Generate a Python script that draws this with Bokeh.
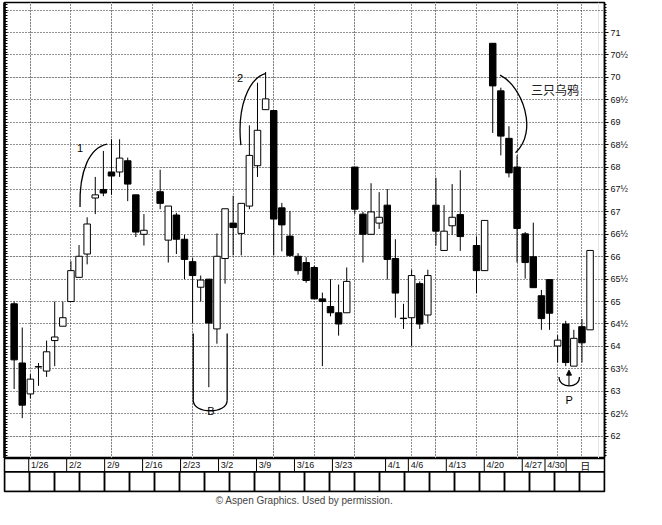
import numpy as np
from bokeh.plotting import figure
from bokeh.layouts import column
from bokeh.models import (ColumnDataSource, LinearAxis, FixedTicker, Grid,
                          Range1d, Arrow, NormalHead)
from bokeh.core.properties import value
from bokeh.embed import file_html
from bokeh.resources import INLINE

# ---------------- data (weekday index, 0 = 1/26; 15 = 2/16 and 54 = 4/10 had no trading)
day_idx = [-2, -1, 0, 1, 2, 3, 4, 5, 6, 7, 8, 9, 10, 11, 12, 13, 14,
           16, 17, 18, 19, 20, 21, 22, 23, 24, 25, 26, 27, 28, 29, 30,
           31, 32, 33, 34, 35, 36, 37, 38, 39, 40, 41, 42, 43, 44, 45,
           46, 47, 48, 49, 50, 51, 52, 53, 55, 56, 57, 58, 59, 60, 61,
           62, 63, 64, 65, 66, 67, 68, 69]
opens = [64.95, 63.63, 62.94, 63.54, 63.45, 64.13, 64.45, 65.00, 65.54, 66.06, 67.31, 67.50, 67.89, 67.89, 68.14, 67.38, 66.50,
         67.45, 66.37, 66.93, 66.39, 65.89, 65.32, 65.50, 64.39, 65.96, 66.75, 66.52, 67.13, 68.03, 69.28, 69.26,
         67.09, 66.46, 66.01, 65.87, 65.76, 65.06, 64.89, 64.75, 64.75, 68.00, 66.95, 66.50, 66.75, 67.15, 65.96,
         64.62, 64.64, 65.40, 64.70, 67.15, 66.14, 66.69, 66.94, 66.25, 65.69, 70.76, 69.70, 68.64, 68.00, 66.51,
         66.00, 65.13, 65.49, 64.01, 64.50, 63.56, 64.44, 64.37]
highs = [65.00, 64.42, 63.38, 63.63, 64.13, 65.00, 65.00, 65.90, 66.26, 66.88, 67.78, 68.36, 68.62, 68.62, 68.21, 67.38, 66.95,
         67.94, 67.13, 66.98, 66.49, 65.97, 65.58, 65.50, 66.52, 67.07, 67.36, 67.19, 68.93, 69.88, 70.12, 69.26,
         67.20, 67.02, 66.08, 65.99, 65.80, 65.20, 65.50, 65.38, 65.76, 68.00, 67.00, 67.64, 67.44, 67.51, 66.39,
         64.95, 65.71, 65.45, 65.71, 67.76, 67.15, 67.62, 67.93, 66.45, 66.81, 70.76, 69.77, 68.91, 68.26, 66.55,
         66.76, 65.26, 65.49, 64.25, 64.57, 64.37, 64.61, 66.14]
lows = [63.05, 62.40, 62.84, 63.12, 63.32, 63.56, 64.45, 65.00, 65.54, 65.83, 66.95, 67.35, 67.38, 67.78, 67.24, 66.44, 66.25,
        67.06, 65.87, 66.06, 65.50, 64.52, 65.00, 63.09, 64.06, 65.40, 66.03, 66.03, 67.06, 67.78, 69.28, 66.03,
        66.12, 66.00, 65.60, 65.42, 65.06, 63.56, 64.67, 64.24, 64.75, 66.95, 65.87, 66.50, 66.62, 65.49, 64.64,
        64.39, 64.01, 64.39, 64.52, 66.25, 66.14, 66.49, 66.13, 65.19, 65.69, 68.76, 68.26, 67.77, 65.87, 65.51,
        65.31, 64.37, 64.37, 63.64, 63.56, 63.56, 63.64, 64.37]
closes = [63.70, 62.69, 63.27, 63.55, 63.88, 64.21, 64.64, 65.69, 66.01, 66.73, 67.38, 67.42, 67.80, 68.20, 67.62, 66.55, 66.59,
          67.19, 67.13, 66.39, 65.94, 65.58, 65.48, 64.52, 66.01, 67.07, 66.65, 67.19, 68.26, 68.82, 69.52, 66.84,
          66.71, 66.03, 65.69, 65.47, 65.06, 65.00, 64.75, 64.50, 65.45, 67.06, 66.50, 67.00, 66.88, 65.94, 65.19,
          64.63, 65.58, 64.50, 65.58, 66.57, 66.57, 66.88, 66.45, 65.69, 66.81, 69.81, 68.69, 67.87, 66.63, 65.87,
          65.31, 64.62, 64.74, 64.14, 63.64, 64.18, 64.08, 66.14]

date_ticks = [0, 5, 10, 15, 20, 25, 30, 35, 40, 47, 50, 55, 60, 65, 68]
date_labels = ["1/26", "2/2", "2/9", "2/16", "2/23", "3/2", "3/9", "3/16", "3/23",
               "4/1", "4/6", "4/13", "4/20", "4/27", "4/30"]
price_ticks = [62, 62.5, 63, 63.5, 64, 64.5, 65, 65.5, 66, 66.5, 67, 67.5, 68, 68.5,
               69, 69.5, 70, 70.5, 71]
price_labels = ["62", "62½", "63", "63½", "64", "64½", "65", "65½", "66", "66½", "67",
                "67½", "68", "68½", "69", "69½", "70", "70½", "71"]
grid_prices = price_ticks + [71.5]
day_unit_label = "日"
caption = "© Aspen Graphics. Used by permission."

# annotation curves (bezier) in data coordinates
curve_names = ["1", "2", "crows", "B", "P"]
curve_x0 = [6.12, 25.95, 57.90, 20.08, 65.18]
curve_y0 = [67.11, 68.49, 70.05, 62.80, 63.32]
curve_cx0 = [6.00, 25.45, 60.64, 20.08, 65.18]
curve_cy0 = [67.93, 69.33, 69.81, 62.48, 63.05]
curve_cx1 = [7.31, 26.88, 62.67, 24.26, 67.69]
curve_cy1 = [68.43, 69.98, 68.79, 62.48, 63.05]
curve_x1 = [9.46, 29.03, 59.81, 24.26, 67.69]
curve_y1 = [68.51, 70.09, 68.32, 62.80, 63.32]
# bracket B vertical sides
b_side_x = [20.08, 24.26]
b_side_top = [64.29, 64.29]
b_side_bottom = [62.80, 62.80]
# labels
ann_text = ["1", "2", "B", "P"]
ann_x = [6.12, 25.86, 22.25, 66.43]
ann_y = [68.43, 69.99, 62.57, 62.80]
crows_text = "三只乌鸦"
crows_x, crows_y = 61.72, 69.72
arrow_x, arrow_y0, arrow_y1 = 66.40, 63.12, 63.47

# ---------------- layout geometry
x_lo, x_hi = -3.19, 70.78
y_lo, y_hi = 61.50, 71.67
FRAME_W = 600
LEFT_B = 4
RIGHT_B = 41
FIG_W = LEFT_B + FRAME_W + RIGHT_B
x_hi2 = x_lo + (x_hi - x_lo) * (FRAME_W + RIGHT_B) / FRAME_W

FONT = "Liberation Sans"

p = figure(width=FIG_W, height=458, output_backend="svg", toolbar_location=None,
           x_range=Range1d(x_lo, x_hi), y_range=Range1d(y_lo, y_hi),
           x_axis_location=None, y_axis_location=None,
           min_border_left=LEFT_B, min_border_right=RIGHT_B,
           min_border_top=2, min_border_bottom=0)
p.outline_line_color = "black"
p.outline_line_width = 1.5
p.background_fill_color = "white"

p.add_layout(Grid(dimension=0, ticker=FixedTicker(ticks=date_ticks),
                  grid_line_color="#222222", grid_line_dash="1 2", grid_line_width=1))
p.add_layout(Grid(dimension=1, ticker=FixedTicker(ticks=grid_prices),
                  grid_line_color="#222222", grid_line_dash="1 2", grid_line_width=1))

minor = list(np.arange(61.5, 71.7, 1 / 16))
ray = LinearAxis(ticker=FixedTicker(ticks=price_ticks, minor_ticks=minor),
                 major_label_overrides={t: l for t, l in zip(price_ticks, price_labels)},
                 major_label_text_font=FONT, major_label_text_font_size="9px",
                 major_label_text_color="#111111", major_label_standoff=2,
                 major_tick_in=0, major_tick_out=4, minor_tick_in=0, minor_tick_out=2,
                 axis_line_width=1.5, major_tick_line_width=1, minor_tick_line_width=1)
p.add_layout(ray, "right")
# left ruler: only minor ticks, so it carries no labels
lax = LinearAxis(ticker=FixedTicker(ticks=[], minor_ticks=minor),
                 major_label_standoff=0,
                 major_tick_in=0, major_tick_out=0, minor_tick_in=3, minor_tick_out=0,
                 axis_line_width=2.5)
p.add_layout(lax, "left")

o = np.array(opens); c = np.array(closes)
src = ColumnDataSource(dict(x=day_idx, o=opens, h=highs, l=lows, c=closes,
                            top=np.maximum(o, c), bot=np.minimum(o, c),
                            fill=["white" if cc >= oo else "black" for oo, cc in zip(opens, closes)]))
p.segment(x0="x", y0="h", x1="x", y1="l", source=src, line_color="black", line_width=1)
p.vbar(x="x", width=0.8, top="top", bottom="bot", source=src,
       fill_color="fill", line_color="black", line_width=1)

p.bezier(x0=curve_x0, y0=curve_y0, cx0=curve_cx0, cy0=curve_cy0,
         cx1=curve_cx1, cy1=curve_cy1, x1=curve_x1, y1=curve_y1,
         line_color="black", line_width=1.3)
p.segment(x0=b_side_x, y0=b_side_top, x1=b_side_x, y1=b_side_bottom,
          line_color="black", line_width=1.3)
p.text(x=ann_x, y=ann_y, text=ann_text, text_font=value(FONT), text_font_size="11px",
       text_align="center", text_baseline="middle", text_color="black")
p.text(x=[crows_x], y=[crows_y], text=[crows_text], text_font=value("Noto Sans CJK SC"),
       text_font_size="12px", text_align="left", text_baseline="middle", text_color="#222222")
p.add_layout(Arrow(end=NormalHead(size=5, fill_color="black", line_color="black"),
                   x_start=arrow_x, y_start=arrow_y0, x_end=arrow_x, y_end=arrow_y1,
                   line_color="black", line_width=1))

# ---------------- date band and cell row
q = figure(width=FIG_W, height=49, output_backend="svg", toolbar_location=None,
           x_range=Range1d(x_lo, x_hi2), y_range=Range1d(0, 1),
           x_axis_location=None, y_axis_location=None,
           min_border_left=LEFT_B, min_border_right=0, min_border_top=0, min_border_bottom=0,
           title=caption, title_location="below")
q.outline_line_color = "black"
q.outline_line_width = 1.5
q.xgrid.visible = False
q.ygrid.visible = False
q.title.align = "center"
q.title.text_font = FONT
q.title.text_font_size = "10px"
q.title.text_font_style = "normal"
q.title.standoff = 3
q.title.offset = 0

band_lo = 0.6
sep_x = date_ticks + [x_hi]
q.segment(x0=sep_x, y0=[band_lo] * len(sep_x), x1=sep_x, y1=[1] * len(sep_x),
          line_color="black", line_width=1)
q.segment(x0=[x_lo], y0=[band_lo], x1=[x_hi2], y1=[band_lo], line_color="black", line_width=1.5)
q.text(x=[t + 0.3 for t in date_ticks], y=[0.8] * len(date_ticks), text=date_labels,
       text_font=value(FONT), text_font_size="9px", text_align="left",
       text_baseline="middle", text_color="#111111")
q.text(x=[(x_hi + x_hi2) / 2], y=[0.8], text=[day_unit_label], text_font=value("Noto Sans CJK SC"),
       text_font_size="10px", text_align="center", text_baseline="middle", text_color="#111111")
edges = np.linspace(x_lo, x_hi2, 25)
q.quad(left=edges[:-1], right=edges[1:], bottom=0, top=band_lo,
       fill_color=None, line_color="black", line_width=1.5)

layout = column(p, q, spacing=0)
open("out.html", "w").write(file_html(layout, INLINE))
